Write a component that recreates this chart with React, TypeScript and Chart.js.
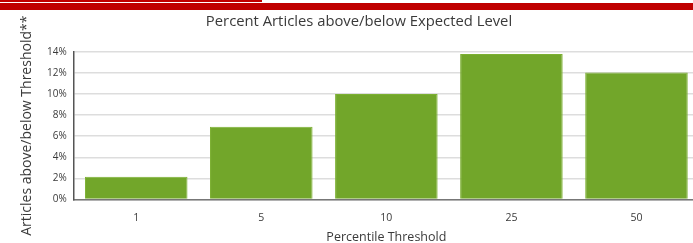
import React, { useEffect, useRef } from "react";
import { Chart, registerables } from "chart.js";

Chart.register(...registerables);

const categories = ["1", "5", "10", "25", "50"];
const values = [2.15, 6.9, 10.0, 13.8, 12.05];
const yTicks = [0, 2, 4, 6, 8, 10, 12, 14];
const chartTitle = "Percent Articles above/below Expected Level";
const xTitle = "Percentile Threshold";
const yTitle = "Articles above/below Threshold**";

const FONT = "'Open Sans', 'DejaVu Sans', sans-serif";
const TEXT = "#3a3a3a";

export default function App() {
  const ref = useRef<HTMLCanvasElement | null>(null);

  useEffect(() => {
    document.body.style.margin = "0";
    const canvas = ref.current;
    if (!canvas) return;
    const chart = new Chart(canvas, {
      type: "bar",
      data: {
        labels: categories,
        datasets: [
          {
            data: values,
            backgroundColor: "#72a62a",
            borderColor: "#7cb032",
            borderWidth: 1,
            barPercentage: 0.82,
            categoryPercentage: 1,
          },
        ],
      },
      options: {
        responsive: false,
        animation: false,
        devicePixelRatio: 1,
        layout: { padding: { top: 0, left: 19, right: 21, bottom: 0 } },
        plugins: {
          legend: { display: false },
          tooltip: { enabled: false },
          title: {
            display: true,
            text: chartTitle,
            color: TEXT,
            font: { family: FONT, size: 14.8, weight: "normal" },
            padding: { top: 12.6, bottom: 21.6 },
          },
        },
        scales: {
          x: {
            grid: { display: false },
            border: { display: true, color: "#777", width: 1.5 },
            ticks: {
              color: TEXT,
              font: { family: FONT, size: 10.5 },
              padding: 4,
            },
            title: {
              display: true,
              text: xTitle,
              color: TEXT,
              font: { family: FONT, size: 12.5 },
              padding: { top: 2, bottom: 0 },
            },
          },
          y: {
            min: 0,
            max: 14,
            afterBuildTicks: (axis: any) => {
              axis.ticks = yTicks.map((v) => ({ value: v }));
            },
            grid: { color: "#dddddd", lineWidth: 1.5, drawTicks: false },
            border: { display: true, color: "#555", width: 1.5 },
            ticks: {
              color: TEXT,
              font: { family: FONT, size: 10 },
              padding: 7,
              callback: (v: any) => v + "%",
            },
            title: {
              display: true,
              text: yTitle,
              color: TEXT,
              font: { family: FONT, size: 14 },
              padding: { top: 0, bottom: 4.2 },
            },
          },
        },
      },
    });
    return () => chart.destroy();
  }, []);

  return (
    <div
      style={{
        position: "relative",
        width: 693,
        height: 243,
        overflow: "hidden",
        background: "#fff",
      }}
    >
      <canvas
        ref={ref}
        width={720}
        height={245}
        style={{ position: "absolute", left: 0, top: 0, width: 720, height: 245 }}
      />
      <div style={{ position: "absolute", left: 0, top: 3, width: 693, height: 7, background: "#c00000" }} />
      <div style={{ position: "absolute", left: 0, top: 0, width: 262, height: 2, background: "#c00000" }} />
    </div>
  );
}
